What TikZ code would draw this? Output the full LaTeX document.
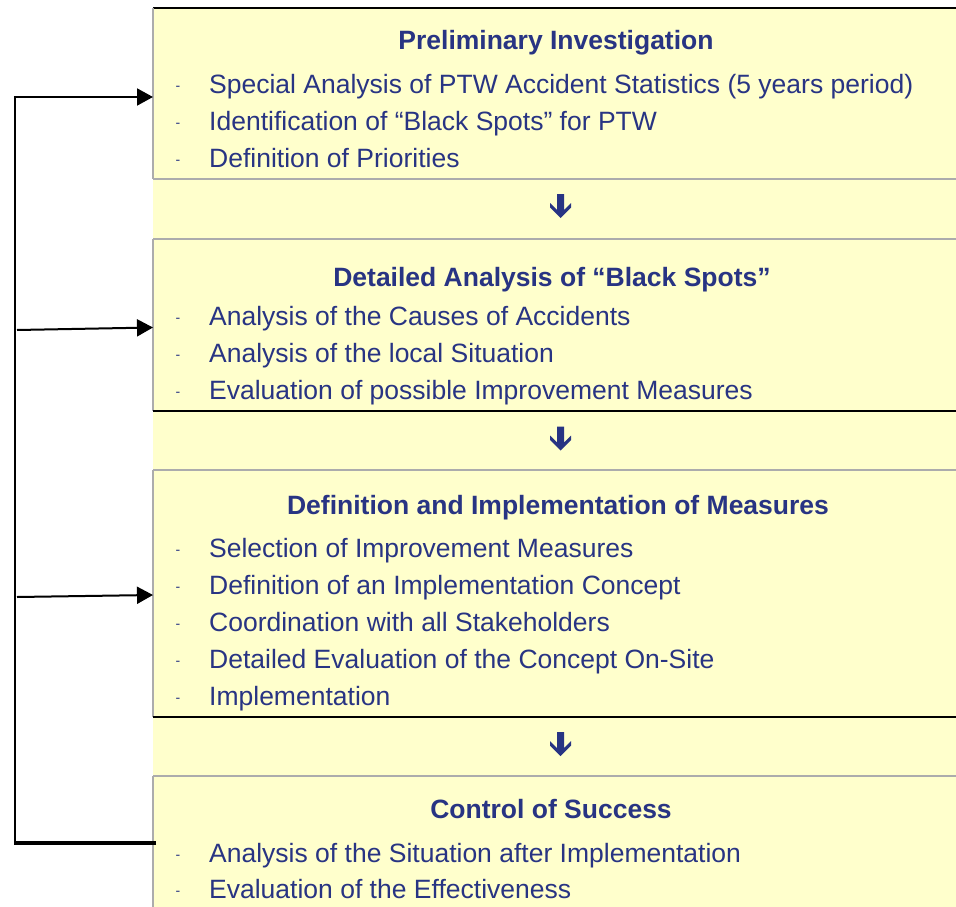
\documentclass[tikz,border=0pt]{standalone}
\usepackage{fontspec}
\setmainfont{Liberation Sans}
\usetikzlibrary{arrows.meta}
\definecolor{navy}{RGB}{40,52,131}
\definecolor{paleyellow}{RGB}{255,255,204}
\definecolor{rulegrey}{RGB}{172,172,172}
\begin{document}
\begin{tikzpicture}[x=1pt,y=-1pt,
  heading/.style={font=\fontsize{26.5}{30}\selectfont\bfseries, text=navy, anchor=base, inner sep=0pt},
  itemtext/.style={font=\fontsize{26.5}{30}\selectfont, text=navy, anchor=base west, inner sep=0pt},
  bulletdash/.style={font=\fontsize{14}{16}\selectfont, text=navy, anchor=base, inner sep=0pt},
  stagebox/.style={anchor=north west, minimum width=803pt, inner sep=0pt, outer sep=0pt},
  greyrule/.style={draw=rulegrey, line width=1.1pt},
  darkrule/.style={draw=black, line width=1.1pt},
  feedback/.style={draw=black, line width=2.4pt},
  tip/.style={-{Triangle[length=16pt,width=17pt]}},
  downarrow/.pic={
    \fill[navy] (-3.5,-12) -- (3.5,-12) -- (3.5,4) -- (10.5,-3) -- (10.5,1.5)
      -- (0,12) -- (-10.5,1.5) -- (-10.5,-3) -- (-3.5,4) -- cycle;
  }
]
\useasboundingbox (0,0) rectangle (956,907);

% yellow background of the process column
\fill[paleyellow] (153,8) rectangle (956,907);

% the four stages and the three strips between them
\node[stagebox, minimum height=171pt] (s1) at (153,8) {};
\node[stagebox, minimum height=60pt]  (g1) at (153,179) {};
\node[stagebox, minimum height=172pt] (s2) at (153,239) {};
\node[stagebox, minimum height=59pt]  (g2) at (153,411) {};
\node[stagebox, minimum height=247pt] (s3) at (153,470) {};
\node[stagebox, minimum height=59pt]  (g3) at (153,717) {};
\node[stagebox, minimum height=131pt] (s4) at (153,776) {};

% borders
\draw[black, line width=2.8pt] (s1.north west) -- (s1.north east);
\draw[greyrule] (s1.north west) -- (s1.south west);
\draw[greyrule] (s2.north west) -- (s2.south west);
\draw[greyrule] (s3.north west) -- (s3.south west);
\draw[greyrule] (s4.north west) -- (s4.south west);
\draw[greyrule] (g1.north west) -- (g1.north east);
\draw[greyrule] (g1.south west) -- (g1.south east);
\draw[darkrule] (g2.north west) -- (g2.north east);
\draw[greyrule] (g2.south west) -- (g2.south east);
\draw[darkrule] (g3.north west) -- (g3.north east);
\draw[greyrule] (g3.south west) -- (g3.south east);

% arrows between the stages
\pic at ([yshift=3pt]g1.center -| 560.5,0) {downarrow};
\pic at ([yshift=2pt]g2.center -| 560.5,0) {downarrow};
\pic at ([yshift=2.5pt]g3.center -| 560.5,0) {downarrow};

% stage 1
\node[heading] (h1) at (556,50) {Preliminary Investigation};
\foreach \y/\t [count=\i] in {93/{Special Analysis of PTW Accident Statistics (5 years period)},
                               130/{Identification of “Black Spots” for PTW},
                               167/{Definition of Priorities}} {
  \node[bulletdash] (d1\i) at (178,\y-3) {-};
  \node[itemtext] (t1\i) at (209,\y) {\t};
}

% stage 2
\node[heading] (h2) at (552,286) {Detailed Analysis of “Black Spots”};
\foreach \y/\t [count=\i] in {325/{Analysis of the Causes of Accidents},
                               362/{Analysis of the local Situation},
                               399/{Evaluation of possible Improvement Measures}} {
  \node[bulletdash] (d2\i) at (178,\y-3) {-};
  \node[itemtext] (t2\i) at (209,\y) {\t};
}

% stage 3
\node[heading] (h3) at (558,514) {Definition and Implementation of Measures};
\foreach \y/\t [count=\i] in {557/{Selection of Improvement Measures},
                               594/{Definition of an Implementation Concept},
                               631/{Coordination with all Stakeholders},
                               668/{Detailed Evaluation of the Concept On-Site},
                               705/{Implementation}} {
  \node[bulletdash] (d3\i) at (178,\y-3) {-};
  \node[itemtext] (t3\i) at (209,\y) {\t};
}

% stage 4
\node[heading] (h4) at (551,818) {Control of Success};
\foreach \y/\t [count=\i] in {862/{Analysis of the Situation after Implementation},
                               898/{Evaluation of the Effectiveness}} {
  \node[bulletdash] (d4\i) at (178,\y-3) {-};
  \node[itemtext] (t4\i) at (209,\y) {\t};
}

% feedback loop from the control of success back to the earlier stages
\coordinate (railTop) at (15,97);
\coordinate (railBottom) at (15,843);
\coordinate (tap2) at (17,330);
\coordinate (tap3) at (17,597);
\draw[feedback, line width=3.2pt] ([xshift=3pt,yshift=-1.5pt]s4.west) -- ([xshift=-1.2pt]railBottom);
\draw[feedback] (railBottom) -- (railTop);
\draw[feedback, line width=2pt, tip] ([xshift=-1.2pt]railTop) -- ([yshift=-3.5pt]s1.west);
\draw[feedback, line width=2pt, tip] (tap2) -- ([yshift=-2.5pt]s2.west);
\draw[feedback, line width=2pt, tip] (tap3) -- ([yshift=-1.5pt]s3.west);
\end{tikzpicture}
\end{document}
